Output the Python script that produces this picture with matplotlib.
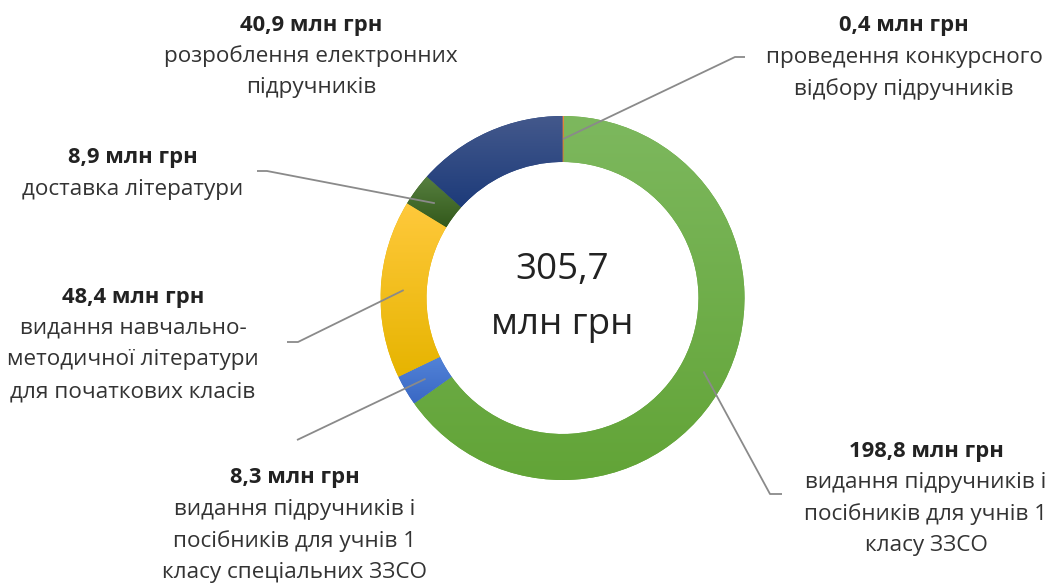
import numpy as np
import matplotlib
matplotlib.use('Agg')
import matplotlib.pyplot as plt
from matplotlib.colors import LinearSegmentedColormap

# ---------------- data ----------------
values = [0.4, 198.8, 8.3, 48.4, 8.9, 40.9]
amounts = ['0,4 млн грн', '198,8 млн грн', '8,3 млн грн',
           '48,4 млн грн', '8,9 млн грн', '40,9 млн грн']
descriptions = [
    ['проведення конкурсного', 'відбору підручників'],
    ['видання підручників і', 'посібників для учнів 1', 'класу ЗЗСО'],
    ['видання підручників і', 'посібників для учнів 1', 'класу спеціальних ЗЗСО'],
    ['видання навчально-', 'методичної літератури', 'для початкових класів'],
    ['доставка літератури'],
    ['розроблення електронних', 'підручників'],
]
total_label = ['305,7', 'млн грн']

# ---------------- style ----------------
top_colors = ['#f08a3e', '#7db85e', '#5283d8', '#ffc93c', '#578040', '#44598c']
bottom_colors = ['#dc6e1e', '#62a437', '#3a68c4', '#e6b400', '#33591b', '#1d3b7a']
amount_color = '#222222'
text_color = '#333333'
line_color = '#8a8a8a'
FONT = ['Open Sans', 'DejaVu Sans']

W, H = 1050, 583
CX, CY = 562.5, 298.0          # image coords
R_OUT, RING = 182.0, 46.0

# label placement (image pixel coords): centre x, first-line y
label_pos = [(904, 26), (926, 451), (295, 478), (133, 297), (133, 158), (311, 25)]
line_step = 31.5
# leader line bends (image coords), from anchor outwards
leader_bends = [
    [(735, 57), (745, 57)],
    [(770, 494), (782, 494)],
    [(297, 440)],
    [(298, 342), (287, 342)],
    [(267, 171), (257, 171)],
    None,
]


def fy(y):
    return H - y


fig = plt.figure(figsize=(W / 100, H / 100), dpi=100)
ax = fig.add_axes([0, 0, 1, 1])

wedges, _ = ax.pie(values, radius=R_OUT, center=(CX, fy(CY)), startangle=90,
                   counterclock=False,
                   colors=[c for c in bottom_colors],
                   wedgeprops=dict(width=RING, linewidth=0, edgecolor='none'))

# gradient fill per wedge (vertical, lighter at top)
grad = np.linspace(0, 1, 256).reshape(-1, 1)
for w, ct, cb in zip(wedges, top_colors, bottom_colors):
    ext = w.get_path().get_extents()
    cmap = LinearSegmentedColormap.from_list('g', [ct, cb])
    im = ax.imshow(grad, cmap=cmap, aspect='auto', origin='upper',
                   extent=(ext.x0, ext.x1, ext.y0, ext.y1), zorder=2,
                   interpolation='bilinear')
    im.set_clip_path(w)

# leader lines
total = sum(values)
cum = np.cumsum([0] + values)
r_mid = R_OUT - RING / 2
for i, bends in enumerate(leader_bends):
    if bends is None:
        continue
    mid = (cum[i] + cum[i + 1]) / 2 / total * 2 * np.pi
    ax_x = CX + r_mid * np.sin(mid)
    ax_y = CY - r_mid * np.cos(mid)
    xs = [ax_x] + [b[0] for b in bends]
    ys = [fy(ax_y)] + [fy(b[1]) for b in bends]
    ax.plot(xs, ys, color=line_color, lw=1.3, zorder=5, solid_capstyle='butt')

# labels
for (x, y), amt, desc in zip(label_pos, amounts, descriptions):
    ax.text(x, fy(y), amt, ha='center', va='center', fontsize=15.8,
            fontweight='bold', color=amount_color, family=FONT)
    for j, line in enumerate(desc):
        ax.text(x, fy(y + line_step * (j + 1)), line, ha='center', va='center',
                fontsize=16.2, color=text_color, family=FONT)

# centre total
ax.text(CX, fy(270), total_label[0], ha='center', va='center', fontsize=26.5,
        color=amount_color, family=FONT)
ax.text(CX, fy(325), total_label[1], ha='center', va='center', fontsize=26.5,
        color=amount_color, family=FONT)

ax.set_xlim(0, W)
ax.set_ylim(0, H)
ax.set_aspect('auto')
ax.axis('off')
fig.savefig('out.png', dpi=100, facecolor='white')
